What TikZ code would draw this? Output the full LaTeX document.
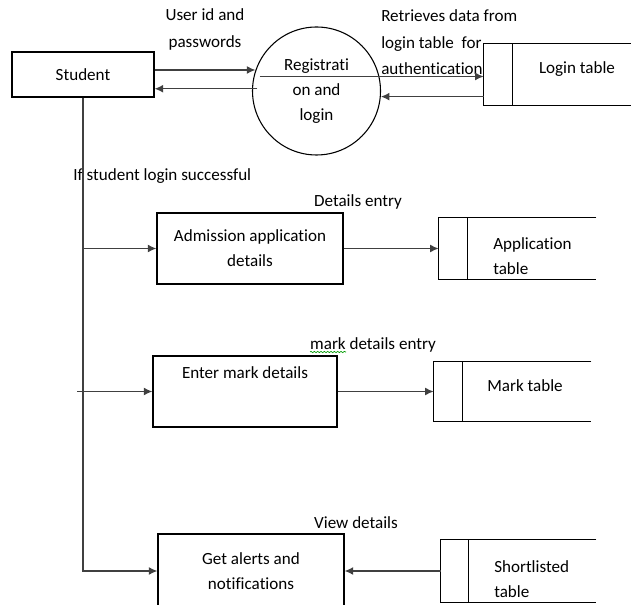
\documentclass[tikz,border=0pt]{standalone}
\usepackage{fontspec}
\setmainfont{Carlito}[Ligatures={NoCommon,NoRequired,NoContextual}]
\usepackage{tikz}
\usetikzlibrary{arrows.meta}
\usetikzlibrary{positioning,decorations.pathmorphing}
\newcommand{\StoreLines}[2]{%
\draw[Process] (#1.north east) -- (#1.north west) -- (#1.south west) -- (#1.south east);
\draw[Process] ([xshift=#2]#1.north west) -- ([xshift=#2]#1.south west)}

\begin{document}
\begin{tikzpicture}[
x=0.75pt, y=-0.75pt,
every node/.style={font=\fontsize{12.8}{18.75}\selectfont, inner sep=0pt},
Process/.style={draw=black, line width=0.8pt},
Store/.style={inner sep=0pt},
Flow/.style={-{Latex[length=6.5pt, width=6pt]}, draw=black!75, line width=1.1pt},
Squiggle/.style={draw=green!60!black, line width=0.5pt, decorate, decoration={snake, amplitude=0.5pt, segment length=2.5pt}}
]
\useasboundingbox (0,0) rectangle (631,605);
\clip (0,0) rectangle (631,605);

% processes and entity
\node[Process, minimum width=106.5pt, minimum height=33.75pt] (student) at (83,74.5) {Student};
\node[Process, circle, minimum size=96pt, align=center] (reg) at (316.5,91) {Registrati\\on and\\login};
\node[Process, minimum width=139.5pt, minimum height=53.25pt, align=center] (admission) at (250,248.5) {Admission application\\details};
\node[Process, minimum width=138pt, minimum height=53.25pt] (enter) at (245,391.5) {};
\node (entertxt) at (245,373) {Enter mark details};
\node[Process, minimum width=139.5pt, minimum height=55.5pt, align=center] (alerts) at (251,571) {Get alerts and\\notifications};

% data stores
\node[Store, minimum width=124.5pt, minimum height=45.75pt] (login) at (567,74.5) {};
\StoreLines{login}{21.75pt};
\node (logintxt) at (577,69) {Login table};

\node[Store, minimum width=117.75pt, minimum height=45.75pt] (apptable) at (517.5,248.5) {};
\StoreLines{apptable}{21.75pt};
\node[anchor=west, align=left] (apptxt) at (493,256.5) {Application\\table};

\node[Store, minimum width=117.75pt, minimum height=44.25pt] (marktable) at (512.5,391.5) {};
\StoreLines{marktable}{21.75pt};
\node (marktxt) at (525,386) {Mark table};

\node[Store, minimum width=116.25pt, minimum height=46.5pt] (shortl) at (518.5,571) {};
\StoreLines{shortl}{21pt};
\node[anchor=west, align=left] (shorttxt) at (494,579.5) {Shortlisted\\table};

% flow labels
\node[align=center, font=\fontsize{12.8}{20}\selectfont] (useridlbl) at (205,29.5) {User id and\\passwords};
\node[anchor=west, align=left, font=\fontsize{12.8}{19.9}\selectfont] (retrlbl) at (381,42.5) {Retrieves data from\\login table~ for\\authentication};
\node[anchor=west] (loginok) at (73,176) {If student login successful};
\node (detailslbl) at (358,202) {Details entry};
\node (marklbl) at (373,345) {mark details entry};
\node (viewlbl) at (356,523) {View details};
\draw[Squiggle] (310,352) -- (346,352);

% flows
\draw[Flow] (student.east |- reg.161) -- (reg.161);
\draw[Flow] ([xshift=4pt]reg.178) -- (reg.178 -| student.east);
\draw[Flow] ([xshift=4.5pt]reg.167) -- (reg.167 -| login.west);
\draw[Flow] (login.west |- reg.-5) -- (reg.-5);

\draw[Flow] (student.south) |- (alerts.west);
\draw[Flow] (student.south |- admission.west) -- (admission.west);
\draw[Flow] ([xshift=-4.5pt]student.south |- enter.west) -- (enter.west);

\draw[Flow] (admission.east) -- (apptable.west);
\draw[Flow] (enter.east) -- (marktable.west);
\draw[Flow] (shortl.west) -- (alerts.east);

\end{tikzpicture}
\end{document}
